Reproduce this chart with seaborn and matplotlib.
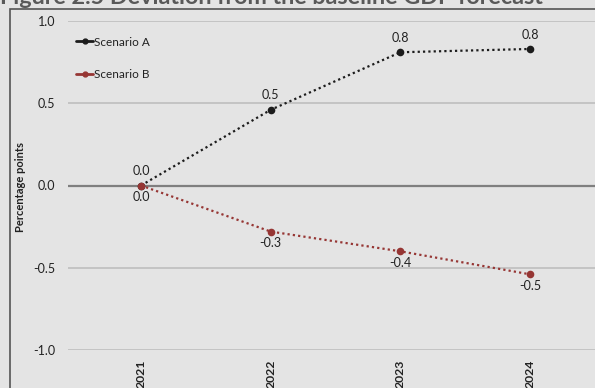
import matplotlib
matplotlib.use("Agg")
import matplotlib.pyplot as plt
from matplotlib.lines import Line2D
from matplotlib.patches import Rectangle
import seaborn as sns
import pandas as pd

years = ["2021", "2022", "2023", "2024"]
scenario_a = [0.0, 0.46, 0.81, 0.83]
scenario_b = [0.0, -0.28, -0.40, -0.54]
series_names = ["Scenario A", "Scenario B"]
title = "Figure 2.5 Deviation from the baseline GDP forecast"
ylabel = "Percentage points"
yticks = [-1.0, -0.5, 0.0, 0.5, 1.0]

BG = "#e4e4e4"
COL_A = "#1c1c1c"
COL_B = "#963634"

sns.set_style("white")
plt.rcParams["font.family"] = ["Lato", "DejaVu Sans"]

fig = plt.figure(figsize=(5.95, 3.88), dpi=100, facecolor=BG)
ax = fig.add_axes([68 / 595, 1 - 350 / 388, 1 - 68 / 595, (350 - 21) / 388])
ax.set_facecolor(BG)

df = pd.DataFrame({
    "x": list(range(len(years))) * 2,
    "value": scenario_a + scenario_b,
    "series": [series_names[0]] * len(years) + [series_names[1]] * len(years),
})

for name, col in zip(series_names, [COL_A, COL_B]):
    sub = df[df["series"] == name]
    sns.lineplot(data=sub, x="x", y="value", ax=ax, color=col, lw=1.6,
                 linestyle=(0, (1, 1.4)), marker="o", markersize=5.5,
                 markeredgewidth=0, legend=False, zorder=3)

# gridlines
for yv in yticks:
    if yv == 0:
        ax.axhline(yv, color="#7f7f7f", lw=1.6, zorder=2)
    else:
        ax.axhline(yv, color="#c4c4c4", lw=1.4, zorder=1)

ax.set_xlim(-(141 - 68) / 129.7, 3 + (595 - 530) / 129.7)
ax.set_ylim(-1.0, 1.0)
ax.set_yticks(yticks)
ax.set_yticklabels([f"{v:.1f}" for v in yticks], fontsize=9, color="#222222")
ax.set_xticks(range(len(years)))
ax.set_xticklabels(years, rotation=90, fontsize=8.8, fontweight="bold",
                   color="#222222", va="top")
ax.tick_params(axis="both", length=0, pad=9)
ax.tick_params(axis="x", pad=7)
for s in ax.spines.values():
    s.set_visible(False)
ax.set_xlabel("")
ax.set_ylabel("")

# data labels
for i, v in enumerate(scenario_a):
    ax.annotate(f"{v:.1f}", (i, v), xytext=(0, 6), textcoords="offset points",
                ha="center", va="bottom", fontsize=9, color="#222222")
for i, v in enumerate(scenario_b):
    ax.annotate(f"{abs(v):.1f}" if v == 0 else f"{v:.1f}", (i, v), xytext=(0, -4),
                textcoords="offset points", ha="center", va="top",
                fontsize=9, color="#222222")

# legend
handles = [Line2D([0], [0], color=c, lw=2, marker="o", markersize=3.5)
           for c in [COL_A, COL_B]]
leg = ax.legend(handles, series_names, loc="upper left",
                bbox_to_anchor=(0.0, 0.978), frameon=False, fontsize=8.5,
                handlelength=1.4, handletextpad=0.1, labelspacing=1.82,
                borderaxespad=0.3)
for t in leg.get_texts():
    t.set_color("#222222")

fig.text(21 / 595, 1 - 187 / 388, ylabel, rotation=90, ha="center", va="center",
         fontsize=8, fontweight="bold", color="#222222")

# outer frame
fig.add_artist(Rectangle((10 / 595, -0.05), 1.2, 1 - 8.5 / 388 + 0.05,
                         transform=fig.transFigure, fill=False,
                         edgecolor="#555555", lw=1.2, clip_on=False))

fig.text(0, 1 - 4 / 388, title, ha="left", va="baseline", fontsize=16.8,
         fontweight="bold", color="#595959")

fig.savefig("out.png", dpi=100, facecolor=BG)
